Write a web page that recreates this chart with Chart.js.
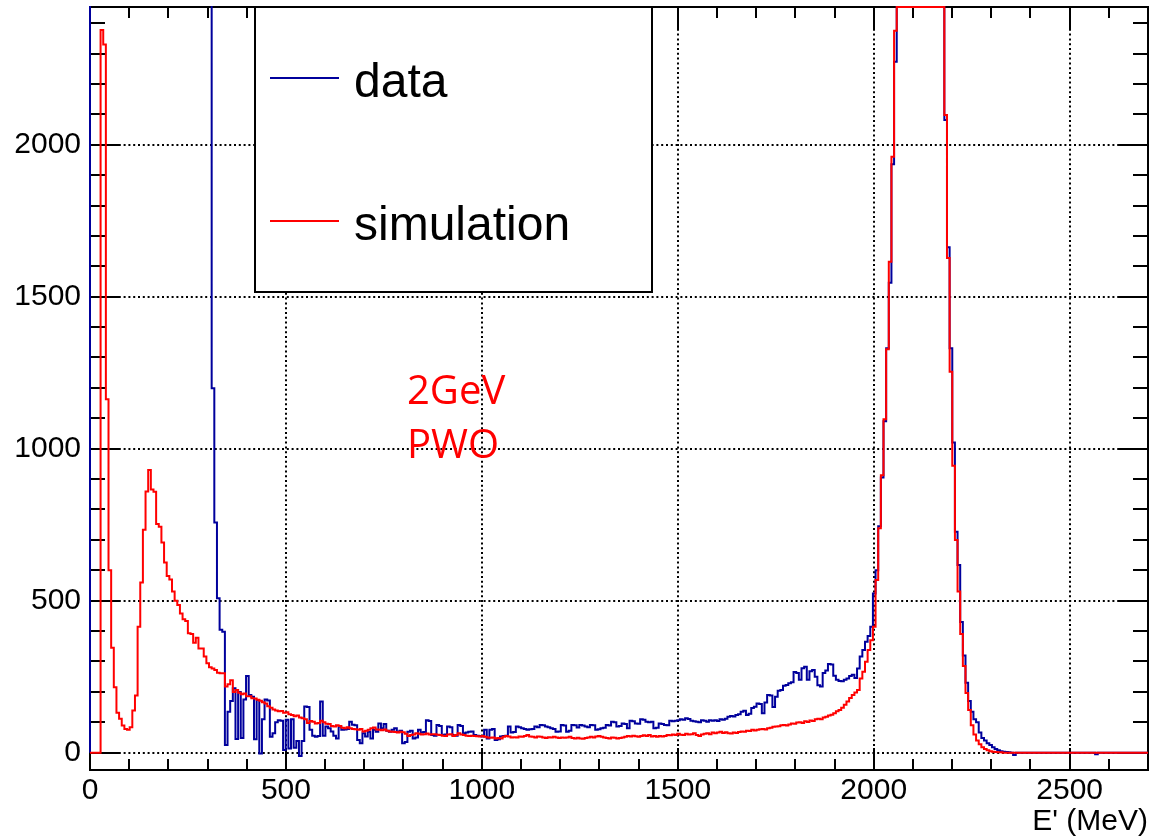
<!DOCTYPE html>
<html>
<head>
<meta charset="utf-8">
<script src="https://cdn.jsdelivr.net/npm/chart.js@4.4.1/dist/chart.umd.min.js"></script>
<style>
html,body{margin:0;padding:0;background:#fff;}
canvas{display:block;}
</style>
</head>
<body>
<canvas id="c" width="1155" height="840"></canvas>
<script>
// ---------------- data (histograms: 400 bins, 0..2700 MeV) ----------------
const xMin = 0, xMax = 2700, nBins = 400;
const yMin = -57, yMax = 2453;
const xTicks = [0, 500, 1000, 1500, 2000, 2500];
const yTicks = [0, 500, 1000, 1500, 2000];
const xMinorStep = 100, yMinorStep = 100;
const xTitle = "E' (MeV)";
const seriesNames = ['data', 'simulation'];
const annotationLines = ['2GeV', 'PWO'];

// measured data (blue); bins 0-45 and the main peak run off the top of the frame
const dataCounts = [
 9400, 9310, 9150, 8860, 8720, 8450, 8290, 8010, 7880, 7620,
 7450, 7230, 7080, 6850, 6700, 6480, 6330, 6150, 5960, 5800,
 5640, 5480, 5300, 5170, 5010, 4860, 4720, 4580, 4450, 4300,
 4180, 4050, 3930, 3810, 3700, 3590, 3480, 3380, 3280, 3190,
 3100, 3010, 2920, 2840, 2760, 2680, 1199, 757, 508, 404,
 398, 25, 135, 170, 212, 45, 200, 48, 175, 252,
 190, 184, 44, 173, -3, 110, 175, 172, 52, 64,
 100, 107, 105, 9, 108, 14, 110, 16, 38, -11,
 38, 152, 150, 75, 56, 52, 55, 168, 56, 86,
 80, 70, 56, 47, 86, 75, 76, 78, 102, 92,
 90, 42, 31, 64, 53, 69, 47, 75, 69, 96,
 80, 94, 72, 69, 75, 80, 69, 72, 31, 35,
 69, 72, 47, 50, 75, 66, 68, 107, 104, 58,
 56, 91, 88, 58, 60, 86, 84, 58, 56, 91,
 88, 64, 66, 69, 70, 58, 56, 55, 53, 75,
 47, 75, 78, 42, 44, 53, 55, 56, 86, 66,
 68, 86, 84, 80, 78, 75, 77, 78, 86, 84,
 91, 90, 86, 84, 80, 78, 69, 70, 91, 89,
 69, 72, 91, 90, 83, 91, 89, 86, 84, 91,
 90, 75, 77, 80, 82, 91, 89, 102, 100, 86,
 88, 96, 94, 80, 105, 103, 96, 95, 110, 108,
 102, 100, 102, 80, 82, 96, 94, 91, 90, 105,
 103, 105, 107, 110, 108, 113, 111, 105, 103, 102,
 100, 107, 105, 102, 107, 105, 107, 104, 110, 108,
 112, 118, 121, 119, 124, 126, 135, 138, 124, 128,
 147, 151, 162, 160, 130, 165, 190, 188, 150, 184,
 204, 206, 220, 223, 228, 232, 265, 262, 240, 278,
 283, 240, 268, 272, 250, 222, 218, 262, 270, 292,
 290, 253, 240, 236, 235, 240, 244, 252, 256, 246,
 277, 316, 338, 365, 384, 414, 524, 600, 745, 905,
 1090, 1330, 1546, 1936, 2273, 2680, 3100, 3550, 4000, 4400,
 4750, 5000, 5150, 5200, 5100, 4900, 4620, 4280, 3880, 3480,
 3130, 2830, 2520, 2081, 1663, 1330, 1020, 727, 617, 430,
 320, 230, 170, 135, 110, 100, 66, 48, 40, 31,
 25, 18, 12, 8, 5, 3, 2, 1, 0, -8,
 0, 0, 0, 0, 0, 0, 0, 0, 0, 0,
 0, 0, 0, 0, 0, 0, 0, 0, 0, 0,
 0, 0, 0, 0, 0, 0, 0, 0, 0, 0,
 -5, 0, 0, 0, 0, 0, 0, 0, 0, 0,
 0, 0, 0, 0, 0, 0, 0, 0, 0, 0
];

// simulation (red); peak bins 305-322 exceed the frame
const simCounts = [
 0, 0, 0, 0, 2377, 2330, 1163, 600, 345, 215,
 131, 112, 89, 78, 75, 84, 139, 188, 414, 560,
 733, 859, 930, 866, 858, 752, 743, 691, 626, 581,
 570, 530, 500, 486, 458, 439, 433, 393, 390, 362,
 378, 343, 343, 316, 294, 281, 277, 272, 263, 261,
 261, 218, 225, 238, 200, 206, 197, 192, 195, 186,
 186, 179, 178, 174, 171, 166, 162, 153, 148, 142,
 139, 136, 137, 131, 133, 126, 124, 120, 122, 116,
 113, 110, 98, 104, 102, 96, 98, 105, 100, 95,
 94, 88, 86, 90, 88, 82, 80, 84, 80, 78,
 77, 75, 78, 70, 72, 75, 80, 83, 76, 75,
 74, 76, 72, 70, 69, 68, 66, 69, 67, 62,
 55, 58, 60, 64, 62, 60, 61, 63, 60, 61,
 61, 59, 58, 56, 55, 60, 61, 55, 58, 64,
 60, 58, 56, 55, 56, 55, 54, 53, 55, 52,
 50, 49, 50, 47, 48, 47, 52, 55, 53, 50,
 51, 50, 53, 52, 55, 58, 53, 52, 50, 53,
 52, 50, 48, 51, 50, 52, 50, 48, 50, 49,
 50, 52, 48, 47, 49, 47, 46, 48, 50, 52,
 50, 53, 55, 52, 50, 48, 47, 50, 49, 47,
 48, 50, 52, 55, 53, 56, 54, 52, 55, 57,
 55, 58, 53, 55, 52, 55, 53, 55, 58, 57,
 60, 58, 62, 59, 58, 62, 60, 61, 64, 58,
 55, 60, 62, 64, 61, 66, 64, 66, 69, 65,
 67, 64, 63, 66, 65, 68, 70, 69, 72, 71,
 75, 73, 75, 77, 78, 76, 80, 82, 85, 86,
 87, 90, 91, 89, 93, 96, 95, 99, 100, 98,
 103, 101, 106, 104, 110, 112, 110, 116, 118, 122,
 125, 130, 136, 140, 148, 158, 168, 180, 190, 198,
 206, 244, 266, 299, 338, 370, 414, 568, 738, 913,
 1097, 1327, 1615, 1960, 2375, 2750, 3150, 3600, 4050, 4450,
 4800, 5050, 5200, 5250, 5150, 4950, 4650, 4300, 3900, 3500,
 3150, 2850, 2550, 2098, 1627, 1253, 944, 700, 530, 390,
 285, 196, 140, 90, 60, 40, 28, 18, 12, 8,
 5, 3, 2, 1, 1, 0, 0, 0, 0, 0,
 0, 0, 0, 0, 0, 0, 0, 0, 0, 0,
 0, 0, 0, 0, 0, 0, 0, 0, 0, 0,
 0, 0, 0, 0, 0, 0, 0, 0, 0, 0,
 0, 0, 0, 0, 0, 0, 0, 0, 0, 0,
 0, 0, 0, 0, 0, 0, 0, 0, 0, 0
];

// ---------------- styling ----------------
const BLUE = '#00009c';
const RED = '#ff0000';
const FONT = '"Liberation Sans", Arial, Helvetica, sans-serif';
const binWidth = (xMax - xMin) / nBins;

// histogram outline: points at bin low edges, drawn with step interpolation
function histPoints(values, clampTop) {
  const f = v => clampTop ? Math.min(v, yMax) : v;
  const pts = [{x: xMin, y: 0}];
  values.forEach((v, i) => pts.push({x: xMin + i * binWidth, y: f(v)}));
  pts.push({x: xMax, y: f(values[values.length - 1])});
  return pts;
}

const rootStyle = {
  id: 'rootStyle',
  beforeDatasetsDraw(chart) {
    const {ctx, chartArea: a, scales: {x, y}} = chart;
    ctx.save();
    // dotted grid
    ctx.strokeStyle = '#000';
    ctx.lineWidth = 2;
    ctx.setLineDash([2, 2.8]);
    ctx.beginPath();
    xTicks.forEach(v => {
      if (v <= xMin || v >= xMax) return;
      const px = Math.round(x.getPixelForValue(v));
      ctx.moveTo(px, a.bottom); ctx.lineTo(px, a.top);
    });
    yTicks.forEach(v => {
      const py = Math.round(y.getPixelForValue(v));
      ctx.moveTo(a.left, py); ctx.lineTo(a.right, py);
    });
    ctx.stroke();
    ctx.setLineDash([]);
    // frame
    ctx.lineWidth = 2;
    ctx.strokeRect(a.left, a.top, a.right - a.left, a.bottom - a.top);
    // ticks (inside, both sides)
    ctx.beginPath();
    for (let v = xMin; v <= xMax + 1e-6; v += xMinorStep) {
      const px = Math.round(x.getPixelForValue(v));
      const len = xTicks.includes(v) ? 22 : 11;
      ctx.moveTo(px, a.bottom); ctx.lineTo(px, a.bottom - len);
      ctx.moveTo(px, a.top); ctx.lineTo(px, a.top + len);
    }
    for (let v = Math.ceil(yMin / yMinorStep) * yMinorStep; v <= yMax; v += yMinorStep) {
      const py = Math.round(y.getPixelForValue(v));
      const len = yTicks.includes(v) ? 30 : 15;
      ctx.moveTo(a.left, py); ctx.lineTo(a.left + len, py);
      ctx.moveTo(a.right, py); ctx.lineTo(a.right - len, py);
    }
    ctx.stroke();
    ctx.restore();
  },
  afterDatasetsDraw(chart) {
    const {ctx} = chart;
    ctx.save();
    // legend box
    const L = 255, T = 7, R = 652, B = 292;
    ctx.fillStyle = '#fff';
    ctx.fillRect(L, T, R - L, B - T);
    ctx.strokeStyle = '#000';
    ctx.lineWidth = 2;
    ctx.strokeRect(L, T, R - L, B - T);
    const rows = [{ly: 78, by: 97}, {ly: 221, by: 239.5}];
    chart.data.datasets.forEach((ds, i) => {
      const r = rows[i];
      ctx.strokeStyle = ds.borderColor;
      ctx.lineWidth = 2;
      ctx.beginPath();
      ctx.moveTo(270, r.ly); ctx.lineTo(339, r.ly);
      ctx.stroke();
      ctx.fillStyle = '#000';
      ctx.font = '48px ' + FONT;
      ctx.textBaseline = 'alphabetic';
      ctx.textAlign = 'left';
      ctx.fillText(ds.label, 354, r.by);
    });
    // annotation
    ctx.fillStyle = RED;
    ctx.font = '40px "Open Sans", "Noto Sans", sans-serif';
    ctx.fillText(annotationLines[0], 407, 404);
    ctx.fillText(annotationLines[1], 407, 458);
    ctx.restore();
  }
};

const plainNumber = v => String(v);

function makeChart() {
  new Chart(document.getElementById('c'), {
    type: 'line',
    data: {
      datasets: [
        {label: seriesNames[0], data: histPoints(dataCounts, false), borderColor: BLUE,
         borderWidth: 2, stepped: true, pointRadius: 0, fill: false, order: 1,
         clip: {left: 2, top: 1, right: 1, bottom: 0}},
        {label: seriesNames[1], data: histPoints(simCounts, true), borderColor: RED,
         borderWidth: 2, stepped: true, pointRadius: 0, fill: false, order: 0,
         clip: {left: 2, top: 1, right: 1, bottom: 0}}
      ]
    },
    options: {
      responsive: false,
      devicePixelRatio: 1,
      animation: false,
      events: [],
      layout: {padding: {top: 7, right: 7, left: 0, bottom: 0}},
      plugins: {legend: {display: false}, tooltip: {enabled: false}},
      scales: {
        x: {
          type: 'linear', position: 'bottom', min: xMin, max: xMax,
          afterBuildTicks: s => { s.ticks = xTicks.map(v => ({value: v})); },
          afterFit: s => { s.height = 70; s.paddingLeft = 0; s.paddingRight = 0; },
          grid: {display: false, drawTicks: false},
          border: {display: false},
          ticks: {autoSkip: false, maxRotation: 0, padding: 3, color: '#000',
                  callback: plainNumber, font: {family: FONT, size: 30}},
          title: {display: true, text: xTitle, align: 'end', color: '#000',
                  font: {family: FONT, size: 30}, padding: {top: 0, bottom: 0}}
        },
        y: {
          type: 'linear', position: 'left', min: yMin, max: yMax,
          afterBuildTicks: s => { s.ticks = yTicks.map(v => ({value: v})); },
          afterFit: s => { s.width = 90; s.paddingTop = 0; s.paddingBottom = 0; },
          grid: {display: false, drawTicks: false},
          border: {display: false},
          ticks: {autoSkip: false, padding: 9, color: '#000',
                  callback: plainNumber, font: {family: FONT, size: 30}}
        }
      }
    },
    plugins: [rootStyle]
  });
}

Promise.all([
  document.fonts.load('30px "Liberation Sans"'),
  document.fonts.load('40px "Open Sans"')
]).catch(() => {}).finally(makeChart);
</script>
</body>
</html>
